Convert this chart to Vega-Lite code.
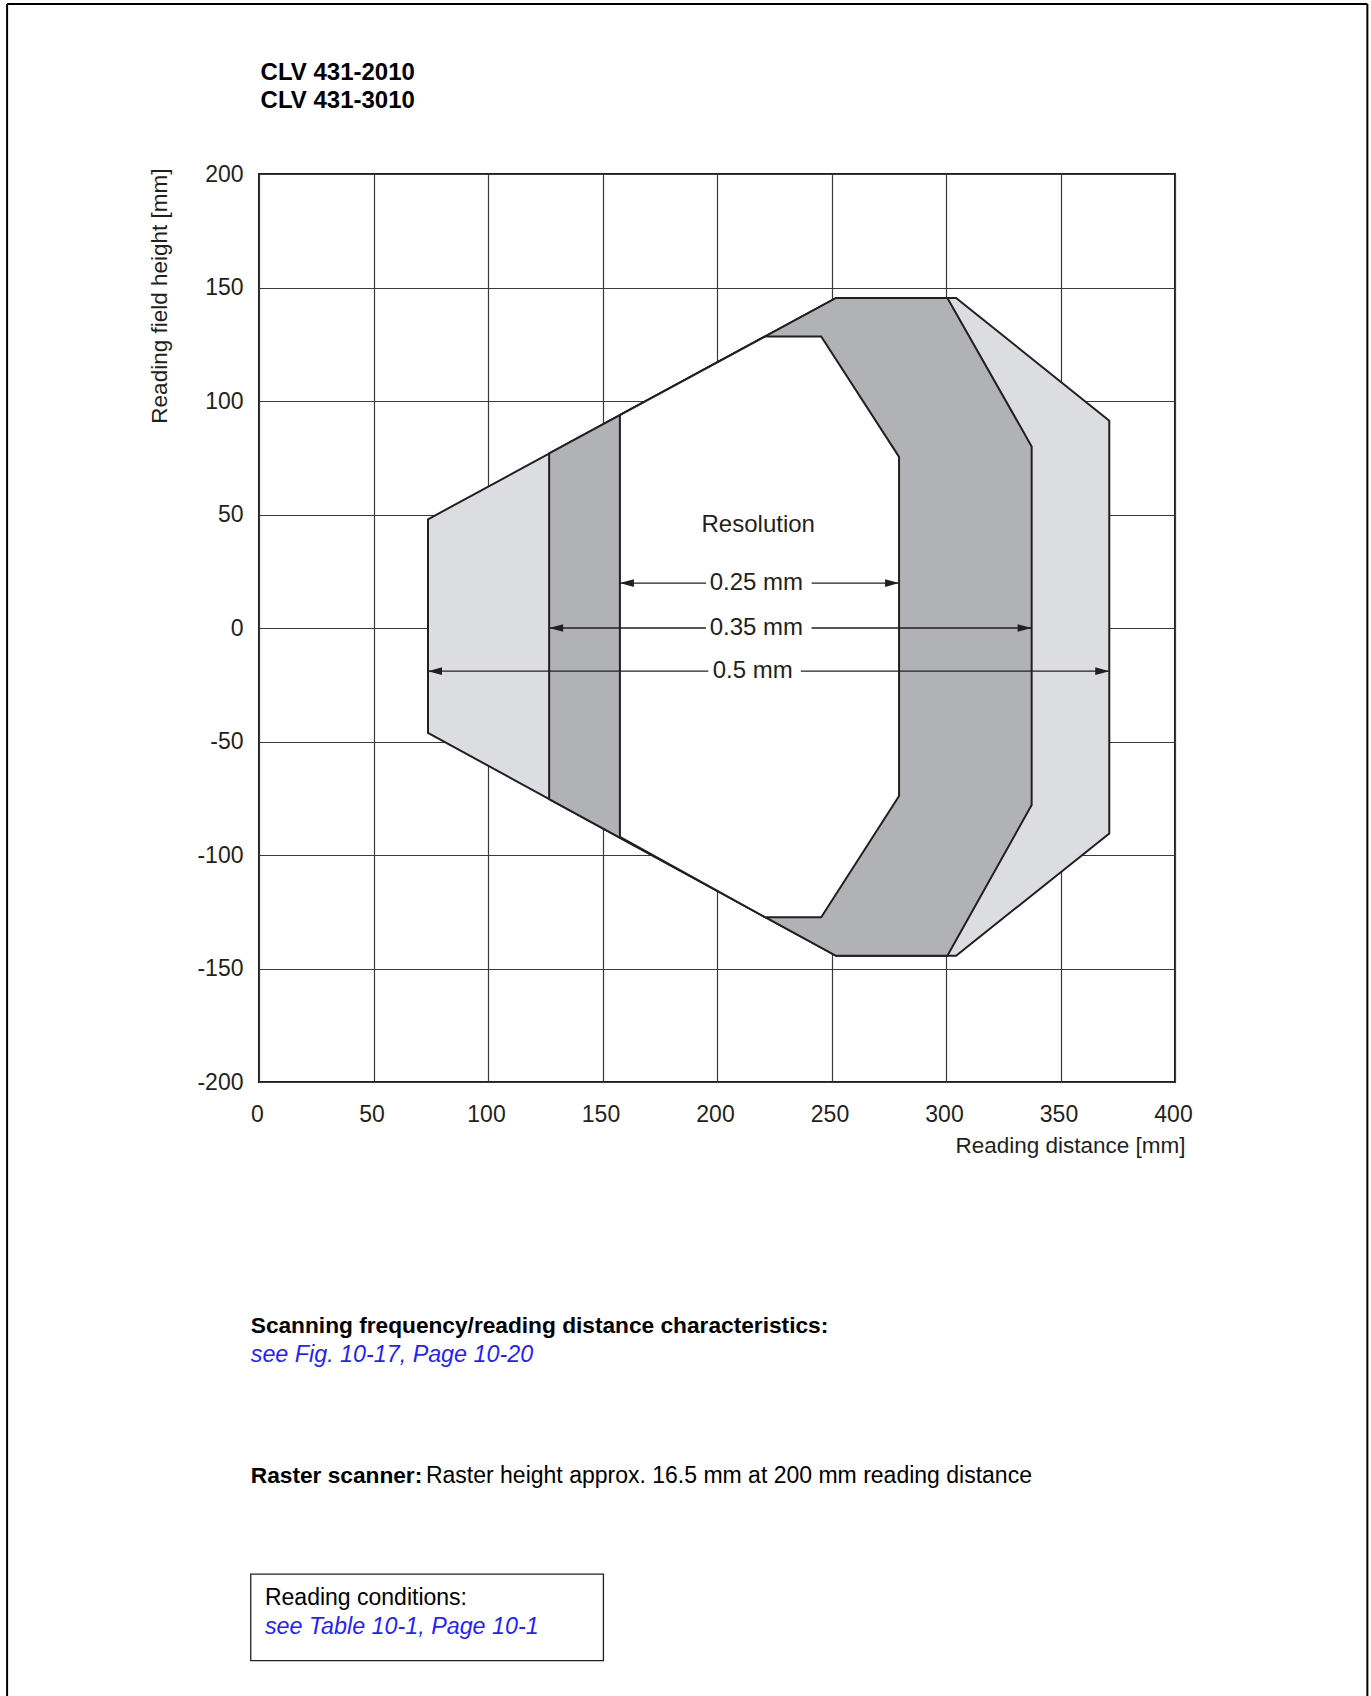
{
  "$schema": "https://vega.github.io/schema/vega-lite/v6.json",
  "width": 916,
  "height": 908,
  "autosize": {"type": "none"},
  "padding": {"left": 259, "top": 174, "right": 196, "bottom": 614},
  "background": "white",
  "datasets": {
    "band05": [
      {"x": 73.8, "y": 47.9, "y2": -46.2},
      {"x": 252, "y": 145.4, "y2": -144.4},
      {"x": 304.4, "y": 145.4, "y2": -144.4},
      {"x": 371.3, "y": 91.3, "y2": -90.5}
    ],
    "band035": [
      {"x": 126.7, "y": 76.9, "y2": -75.4},
      {"x": 252, "y": 145.4, "y2": -144.4},
      {"x": 300.6, "y": 145.4, "y2": -144.4},
      {"x": 337.4, "y": 80, "y2": -78}
    ],
    "band025": [
      {"x": 157.6, "y": 93.8, "y2": -92},
      {"x": 221, "y": 128.4, "y2": -127.4},
      {"x": 245.5, "y": 128.4, "y2": -127.4},
      {"x": 279.5, "y": 75.4, "y2": -74}
    ],
    "arrowLines": [
      {"x": 157.6, "x2": 195.2, "y": 19.8},
      {"x": 241.3, "x2": 279.5, "y": 19.8},
      {"x": 126.7, "x2": 195.2, "y": 0},
      {"x": 241.3, "x2": 337.4, "y": 0},
      {"x": 73.8, "x2": 196.2, "y": -19},
      {"x": 236.6, "x2": 371.3, "y": -19}
    ],
    "arrowHeads": [
      {"x": 157.6, "y": 19.8, "dir": "left"},
      {"x": 279.5, "y": 19.8, "dir": "right"},
      {"x": 126.7, "y": 0, "dir": "left"},
      {"x": 337.4, "y": 0, "dir": "right"},
      {"x": 73.8, "y": -19, "dir": "left"},
      {"x": 371.3, "y": -19, "dir": "right"}
    ],
    "plotLabels": [
      {"x": 217.2, "y": 19.8, "text": "0.25 mm"},
      {"x": 217.2, "y": 0, "text": "0.35 mm"},
      {"x": 215.6, "y": -19, "text": "0.5 mm"},
      {"x": 218, "y": 45.4, "text": "Resolution"}
    ],
    "heading": [
      {"x": 0.7, "y": 244.3, "text": "CLV 431-2010"},
      {"x": 0.7, "y": 232.1, "text": "CLV 431-3010"}
    ],
    "boldNotes": [
      {"x": -3.6, "y": -307.3, "text": "Scanning frequency/reading distance characteristics:"},
      {"x": -3.6, "y": -373.5, "text": "Raster scanner:"}
    ],
    "plainNotes": [
      {"x": 72.9, "y": -373.5, "text": "Raster height approx. 16.5 mm at 200 mm reading distance"},
      {"x": 2.6, "y": -427.3, "text": "Reading conditions:"}
    ],
    "linkNotes": [
      {"x": -3.6, "y": -320.1, "text": "see Fig. 10-17, Page 10-20"},
      {"x": 2.6, "y": -440.2, "text": "see Table 10-1, Page 10-1"}
    ],
    "noteBox": [
      {"x": -3.6, "x2": 150.4, "y": -416.8, "y2": -454.9}
    ],
    "pageFrame": [
      {"x": -110, "x2": 484, "y": 274.9, "y2": 274.9},
      {"x": -110, "x2": -110, "y": 274.9, "y2": -480},
      {"x": 484, "x2": 484, "y": 274.9, "y2": -480}
    ]
  },
  "encoding": {
    "x": {
      "field": "x",
      "type": "quantitative",
      "scale": {"domain": [0, 400], "nice": false, "zero": false},
      "axis": {
        "values": [0, 50, 100, 150, 200, 250, 300, 350, 400],
        "title": "Reading distance [mm]",
        "grid": true,
        "gridColor": "#3a3a3a",
        "gridWidth": 1.2,
        "gridOpacity": 1,
        "domain": false,
        "ticks": false,
        "tickSize": 0,
        "labelPadding": 21,
        "labelFontSize": 23,
        "labelColor": "#231f20",
        "labelFlush": false,
        "labelOverlap": false,
        "labelOffset": -2,
        "titleFontSize": 22.5,
        "titleFontWeight": "normal",
        "titleColor": "#231f20",
        "titleX": 926,
        "titleY": 52,
        "titleAlign": "right",
        "titleBaseline": "top"
      }
    },
    "y": {
      "field": "y",
      "type": "quantitative",
      "scale": {"domain": [-200, 200], "nice": false, "zero": false},
      "axis": {
        "values": [-200, -150, -100, -50, 0, 50, 100, 150, 200],
        "labelExpr": "datum.value + ''",
        "title": "Reading field height [mm]",
        "grid": true,
        "gridColor": "#3a3a3a",
        "gridWidth": 1.2,
        "gridOpacity": 1,
        "domain": false,
        "ticks": false,
        "tickSize": 0,
        "labelPadding": 16,
        "labelFontSize": 23,
        "labelColor": "#231f20",
        "labelFlush": false,
        "labelOverlap": false,
        "titleFontSize": 22.5,
        "titleFontWeight": "normal",
        "titleColor": "#231f20",
        "titleAngle": -90,
        "titleX": -88,
        "titleY": -6,
        "titleAlign": "right",
        "titleBaseline": "bottom"
      }
    }
  },
  "layer": [
    {
      "data": {"name": "band05"},
      "mark": {"type": "area", "orient": "vertical", "fill": "#dcdde0", "stroke": "#231f20", "strokeWidth": 2, "strokeJoin": "miter", "interpolate": "linear"},
      "encoding": {"y2": {"field": "y2"}}
    },
    {
      "data": {"name": "band035"},
      "mark": {"type": "area", "orient": "vertical", "fill": "#b1b2b6", "stroke": "#231f20", "strokeWidth": 2, "strokeJoin": "miter", "interpolate": "linear"},
      "encoding": {"y2": {"field": "y2"}}
    },
    {
      "data": {"name": "band025"},
      "mark": {"type": "area", "orient": "vertical", "fill": "#ffffff", "stroke": "#231f20", "strokeWidth": 2, "strokeJoin": "miter", "interpolate": "linear"},
      "encoding": {"y2": {"field": "y2"}}
    },
    {
      "data": {"name": "arrowLines"},
      "mark": {"type": "rule", "color": "#231f20", "strokeWidth": 1.3},
      "encoding": {"x2": {"field": "x2"}}
    },
    {
      "data": {"name": "arrowHeads"},
      "mark": {"type": "point", "filled": true, "size": 196, "color": "#231f20", "opacity": 1, "strokeWidth": 0},
      "encoding": {
        "shape": {
          "field": "dir",
          "type": "nominal",
          "scale": {"domain": ["left", "right"], "range": ["M0,0L2,-0.55L2,0.55Z", "M0,0L-2,-0.55L-2,0.55Z"]},
          "legend": null
        }
      }
    },
    {
      "data": {"name": "plotLabels"},
      "mark": {"type": "text", "align": "center", "baseline": "middle", "font": "Liberation Sans", "fontSize": 24, "color": "#231f20"},
      "encoding": {"text": {"field": "text"}}
    },
    {
      "data": {"name": "heading"},
      "mark": {"type": "text", "align": "left", "baseline": "middle", "font": "Liberation Sans", "fontSize": 24, "fontWeight": "bold", "color": "#000000"},
      "encoding": {"text": {"field": "text"}}
    },
    {
      "data": {"name": "boldNotes"},
      "mark": {"type": "text", "align": "left", "baseline": "middle", "font": "Liberation Sans", "fontSize": 22.7, "fontWeight": "bold", "color": "#000000"},
      "encoding": {"text": {"field": "text"}}
    },
    {
      "data": {"name": "plainNotes"},
      "mark": {"type": "text", "align": "left", "baseline": "middle", "font": "Liberation Sans", "fontSize": 23, "color": "#000000"},
      "encoding": {"text": {"field": "text"}}
    },
    {
      "data": {"name": "linkNotes"},
      "mark": {"type": "text", "align": "left", "baseline": "middle", "font": "Liberation Sans", "fontSize": 23.3, "fontStyle": "italic", "color": "#1f1fff"},
      "encoding": {"text": {"field": "text"}}
    },
    {
      "data": {"name": "noteBox"},
      "mark": {"type": "rect", "fill": "#ffffff", "fillOpacity": 0, "stroke": "#231f20", "strokeWidth": 1.3},
      "encoding": {"x2": {"field": "x2"}, "y2": {"field": "y2"}}
    },
    {
      "data": {"name": "pageFrame"},
      "mark": {"type": "rule", "color": "#000000", "strokeWidth": 2},
      "encoding": {"x2": {"field": "x2"}, "y2": {"field": "y2"}}
    }
  ],
  "config": {
    "font": "Liberation Sans",
    "view": {"stroke": "#231f20", "strokeWidth": 2}
  }
}
